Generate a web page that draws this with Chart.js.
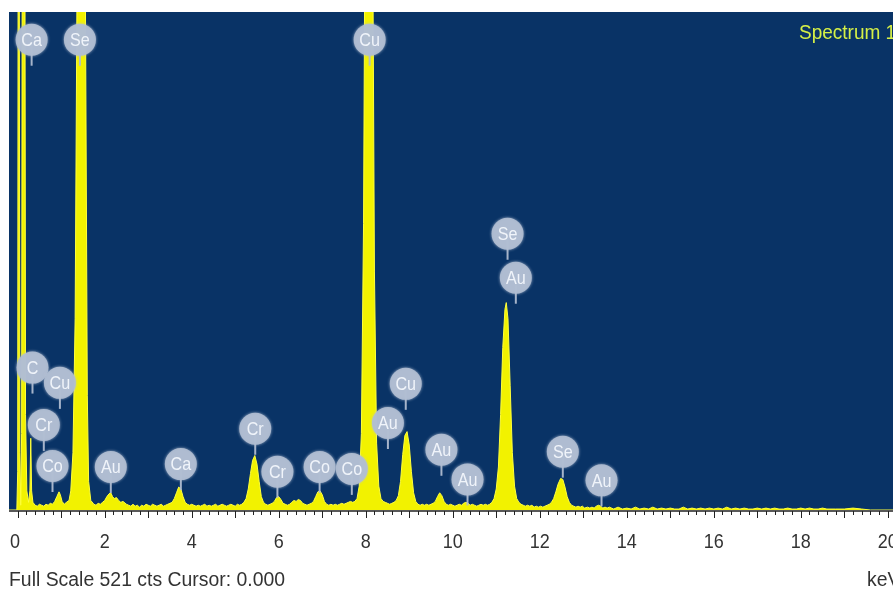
<!DOCTYPE html>
<html><head><meta charset="utf-8">
<script src="https://cdn.jsdelivr.net/npm/chart.js@4.4.0/dist/chart.umd.min.js"></script>
<style>html,body{margin:0;padding:0;background:#fff;overflow:hidden}#wrap{width:893px;height:592px;position:relative}</style>
</head><body><div id="wrap"><canvas id="c" width="893" height="592"></canvas></div>
<script>
// Spectrum trace (energy keV, counts)
const energy = [-0.2,-0.02,0.0,0.02,0.05,0.07,0.09,0.12,0.15,0.18,0.21,0.25,0.28,0.3,0.32,0.35,0.4,0.45,0.5,0.55,0.6,0.65,0.7,0.75,0.8,0.85,0.9,0.95,0.98,1.02,1.07,1.12,1.18,1.22,1.27,1.32,1.37,1.42,1.5,1.55,1.6,1.63,1.68,1.75,1.8,1.85,1.9,1.95,2.0,2.05,2.1,2.14,2.18,2.22,2.27,2.32,2.37,2.42,2.5,2.55,2.6,2.65,2.7,2.75,2.8,2.85,2.9,2.95,3.0,3.05,3.1,3.15,3.2,3.25,3.3,3.35,3.4,3.45,3.5,3.55,3.6,3.65,3.7,3.75,3.8,3.85,3.9,3.95,4.0,4.05,4.1,4.15,4.2,4.25,4.3,4.35,4.4,4.45,4.5,4.55,4.6,4.65,4.7,4.75,4.8,4.85,4.9,4.95,5.0,5.05,5.1,5.15,5.2,5.25,5.3,5.35,5.4,5.45,5.5,5.55,5.6,5.65,5.7,5.75,5.8,5.85,5.9,5.95,6.0,6.05,6.1,6.15,6.2,6.25,6.3,6.35,6.4,6.45,6.5,6.55,6.6,6.65,6.7,6.75,6.8,6.85,6.9,6.95,7.0,7.05,7.1,7.15,7.2,7.25,7.3,7.35,7.4,7.45,7.5,7.55,7.6,7.65,7.7,7.75,7.8,7.85,7.9,7.95,8.0,8.05,8.1,8.15,8.2,8.25,8.3,8.35,8.4,8.45,8.5,8.55,8.6,8.65,8.7,8.75,8.8,8.85,8.9,8.95,9.0,9.05,9.1,9.15,9.2,9.25,9.3,9.35,9.4,9.45,9.5,9.55,9.6,9.65,9.7,9.75,9.8,9.85,9.9,9.95,10.0,10.05,10.1,10.15,10.2,10.25,10.3,10.35,10.4,10.45,10.5,10.55,10.6,10.65,10.7,10.75,10.8,10.85,10.9,10.95,11.0,11.05,11.1,11.15,11.2,11.23,11.27,11.32,11.37,11.42,11.47,11.52,11.57,11.62,11.67,11.72,11.77,11.82,11.87,11.92,11.97,12.02,12.07,12.12,12.17,12.22,12.27,12.32,12.37,12.42,12.48,12.53,12.58,12.63,12.68,12.73,12.78,12.83,12.88,12.93,12.98,13.03,13.1,13.15,13.2,13.25,13.3,13.35,13.4,13.45,13.5,13.55,13.6,13.7,13.8,13.9,14.0,14.1,14.2,14.3,14.4,14.5,14.6,14.7,14.8,14.9,15.0,15.1,15.2,15.3,15.4,15.5,15.6,15.7,15.8,15.9,16.0,16.1,16.2,16.3,16.4,16.5,16.6,16.7,16.8,16.9,17.0,17.1,17.2,17.3,17.4,17.5,17.6,17.7,17.8,17.9,18.0,18.1,18.2,18.3,18.4,18.5,18.6,18.8,19.0,19.2,19.4,19.6,20.12];
const counts = [0,0,40,1200,60,5,80,1200,1200,100,20,8,20,75,20,8,5,4,6,5,4,6,5,7,6,9,14,19,16,9,6,8,10,20,60,200,600,1200,1200,600,120,30,10,6,5,7,6,8,10,14,17,18,14,12,13,10,8,9,6,5,4,6,4,5,3,5,4,6,5,4,6,5,4,5,6,4,5,6,7,8,12,18,24,22,14,8,6,5,6,5,4,5,4,5,6,4,5,4,5,6,4,5,6,5,4,5,6,5,4,6,5,6,8,12,22,38,52,57,48,30,14,8,6,5,6,7,9,13,14,11,7,6,5,6,8,10,9,11,10,7,6,5,6,7,9,14,19,20,16,9,6,5,6,5,6,5,6,7,6,7,8,9,8,9,12,25,80,300,800,1200,1200,700,250,70,25,12,9,8,7,6,7,8,10,15,30,58,78,82,68,40,18,9,6,5,6,5,6,5,6,7,9,14,18,15,9,6,5,6,5,4,5,6,5,7,8,7,5,6,5,4,5,6,5,6,5,6,8,12,22,45,100,170,210,217,200,130,60,25,12,8,6,5,4,5,4,5,3,4,3,4,3,4,5,6,8,12,19,27,33,32,24,14,8,5,4,3,4,3,4,2,3,2,3,2,4,5,4,2,3,2,3,1,3,1,2,1,3,1,2,1,3,1,2,1,2,1,1,3,1,2,1,2,1,2,1,2,1,3,1,2,1,2,1,1,2,1,2,1,2,1,1,2,1,1,2,1,2,1,1,2,1,1,1,2,1,0,0];

const fullScale = 521;
const xMin = -0.2, xMax = 20.12;
const tickValues = [0,2,4,6,8,10,12,14,16,18,20];
const tickLabels = ['0','2','4','6','8','10','12','14','16','18','20'];

// Peak identification labels: element, energy (keV), label height (counts)
const peakNames  = ['Ca','Se','Cu','Se','Au','C','Cu','Cr','Co','Au','Ca','Cr','Cr','Co','Co','Au','Cu','Au','Au','Se','Au'];
const peakEnergy = [0.32,1.43,8.09,11.26,11.45,0.34,0.97,0.60,0.80,2.14,3.75,5.46,5.97,6.94,7.68,8.51,8.92,9.74,10.34,12.53,13.42];
const peakLabelCounts = [492,492,492,289,243,149,133,89,46,45,48,85,40,45,43,91,132,63,32,61,31];

const NAVY = 'rgb(9,51,102)';

const points = energy.map((e,i)=>({x:e,y:counts[i]}));

function narrowText(ctx, text, px, py, size, align, sx){
  ctx.save();
  ctx.font = size+'px "Liberation Sans", Arial, sans-serif';
  ctx.textBaseline='middle';
  ctx.textAlign=align;
  ctx.translate(px,py);
  ctx.scale(sx,1);
  ctx.fillText(text,0,0);
  ctx.restore();
}

const decor = {
  id:'decor',
  beforeDraw(chart){
    const {ctx, chartArea:a} = chart;
    ctx.save();
    ctx.fillStyle='#fff'; ctx.fillRect(0,0,chart.width,chart.height);
    ctx.fillStyle=NAVY; ctx.fillRect(a.left,a.top,a.right-a.left,a.bottom-a.top);
    ctx.restore();
  },
  afterDraw(chart){
    const {ctx, chartArea:a, scales:{x,y}} = chart;
    ctx.save();
    ctx.strokeStyle='#222'; ctx.lineWidth=1.5;
    ctx.beginPath(); ctx.moveTo(a.left,a.bottom+1); ctx.lineTo(a.right,a.bottom+1); ctx.stroke();
    ctx.lineWidth=1;
    for(let i=0;i<=100;i++){
      const v=i*0.2; const px=Math.round(x.getPixelForValue(v))+0.5;
      if(px>a.right) break;
      const major = (i%5===0);
      ctx.beginPath(); ctx.moveTo(px,a.bottom+1); ctx.lineTo(px,a.bottom+(major?8:5)); ctx.stroke();
    }
    ctx.fillStyle='#333';
    tickValues.forEach((v,i)=>{
      const px=x.getPixelForValue(v);
      if(i===0) narrowText(ctx,tickLabels[i],a.left+1,a.bottom+32,20,'left',0.9);
      else narrowText(ctx,tickLabels[i],px,a.bottom+32,20,'center',0.9);
    });
    narrowText(ctx,'Full Scale '+fullScale+' cts Cursor: 0.000', a.left, a.bottom+70, 20, 'left', 0.97);
    narrowText(ctx,'keV', 867, a.bottom+70, 20, 'left', 0.97);
    ctx.fillStyle='rgb(214,240,70)';
    narrowText(ctx,'Spectrum 1', 799, a.top+21, 20, 'left', 0.95);
    peakNames.forEach((n,i)=>{
      const px=x.getPixelForValue(peakEnergy[i]);
      const py=y.getPixelForValue(peakLabelCounts[i]);
      ctx.strokeStyle='rgba(175,188,208,0.95)'; ctx.lineWidth=2;
      ctx.beginPath(); ctx.moveTo(px,py); ctx.lineTo(px,py+26); ctx.stroke();
      ctx.shadowColor='rgba(185,196,214,0.9)'; ctx.shadowBlur=3;
      ctx.fillStyle='rgba(176,189,210,0.93)';
      ctx.beginPath(); ctx.arc(px,py,16,0,Math.PI*2); ctx.fill();
      ctx.shadowBlur=0;
      ctx.fillStyle='rgb(240,244,250)';
      narrowText(ctx,n,px,py+1,19,'center',0.85);
    });
    ctx.restore();
  }
};

new Chart(document.getElementById('c'),{
  type:'line',
  data:{datasets:[{data:points,borderColor:'#ffff3a',backgroundColor:'#f2f200',borderWidth:1,fill:'origin',pointRadius:0,tension:0}]},
  options:{
    responsive:false, animation:false, devicePixelRatio:1,
    layout:{padding:{left:9,top:12,right:0,bottom:82}},
    scales:{
      x:{type:'linear',min:xMin,max:xMax,display:false},
      y:{min:0,max:fullScale,display:false}
    },
    plugins:{legend:{display:false},tooltip:{enabled:false}}
  },
  plugins:[decor]
});
</script></body></html>
